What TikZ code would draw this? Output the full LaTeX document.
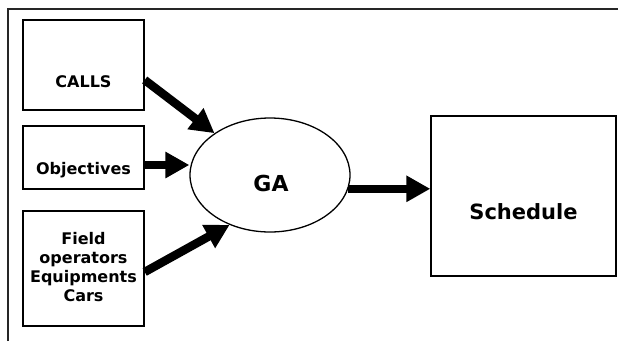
\documentclass[tikz,border=0pt]{standalone}
\usepackage{fontspec}
\setmainfont{DejaVu Sans}
\usetikzlibrary{arrows.meta,shapes.geometric}
\begin{document}
\begin{tikzpicture}[x=1pt,y=-1pt,
  box/.style={draw=black,line width=1.4pt,rectangle,inner sep=0pt,minimum width=#1},
  lbl/.style={font=\bfseries\fontsize{16}{19}\selectfont,inner sep=0pt,anchor=base,align=center},
  fat/.style={line width=8.5pt,-{Triangle[length=24pt,width=25pt]}},
  frame/.style={draw=black!85,line width=1.6pt}]
\useasboundingbox (0,0) rectangle (618,341);
\draw[frame] (8,341) -- (8,9) -- (618,9);
% input boxes
\node[box=121pt,minimum height=90pt] (calls) at (83.5,65) {};
\node[box=121pt,minimum height=63pt] (obj) at (83.5,157.5) {};
\node[box=121pt,minimum height=115pt] (field) at (83.5,268.5) {};
\node[lbl] (callsT) at (83.5,87) {CALLS};
\node[lbl] (objT) at (83.5,174) {Objectives};
\node[lbl,anchor=north] (fieldT) at (83.5,232) {Field\\operators\\Equipments\\Cars};
% GA
\node[draw=black,line width=1.3pt,ellipse,minimum width=160pt,minimum height=114pt,inner sep=0pt] (ga) at (270,175) {};
\node[lbl,font=\bfseries\fontsize{22}{26}\selectfont] (gaT) at (271,191) {GA};
% schedule
\node[box=185pt,minimum height=160pt] (sched) at (523.5,196) {};
\node[lbl,font=\bfseries\fontsize{21}{25}\selectfont] (schedT) at (523.5,219) {Schedule};
% arrows
\draw[fat] ([yshift=-15pt]calls.east) -- (ga.143);
\draw[fat] ([yshift=-7.5pt]obj.east) -- ([yshift=-7.5pt]obj.east -| ga.west);
\draw[fat] ([yshift=-3.5pt]field.east) -- (ga.231);
\draw[fat] (ga.-10) -- (ga.-10 -| sched.west);
\end{tikzpicture}
\end{document}
